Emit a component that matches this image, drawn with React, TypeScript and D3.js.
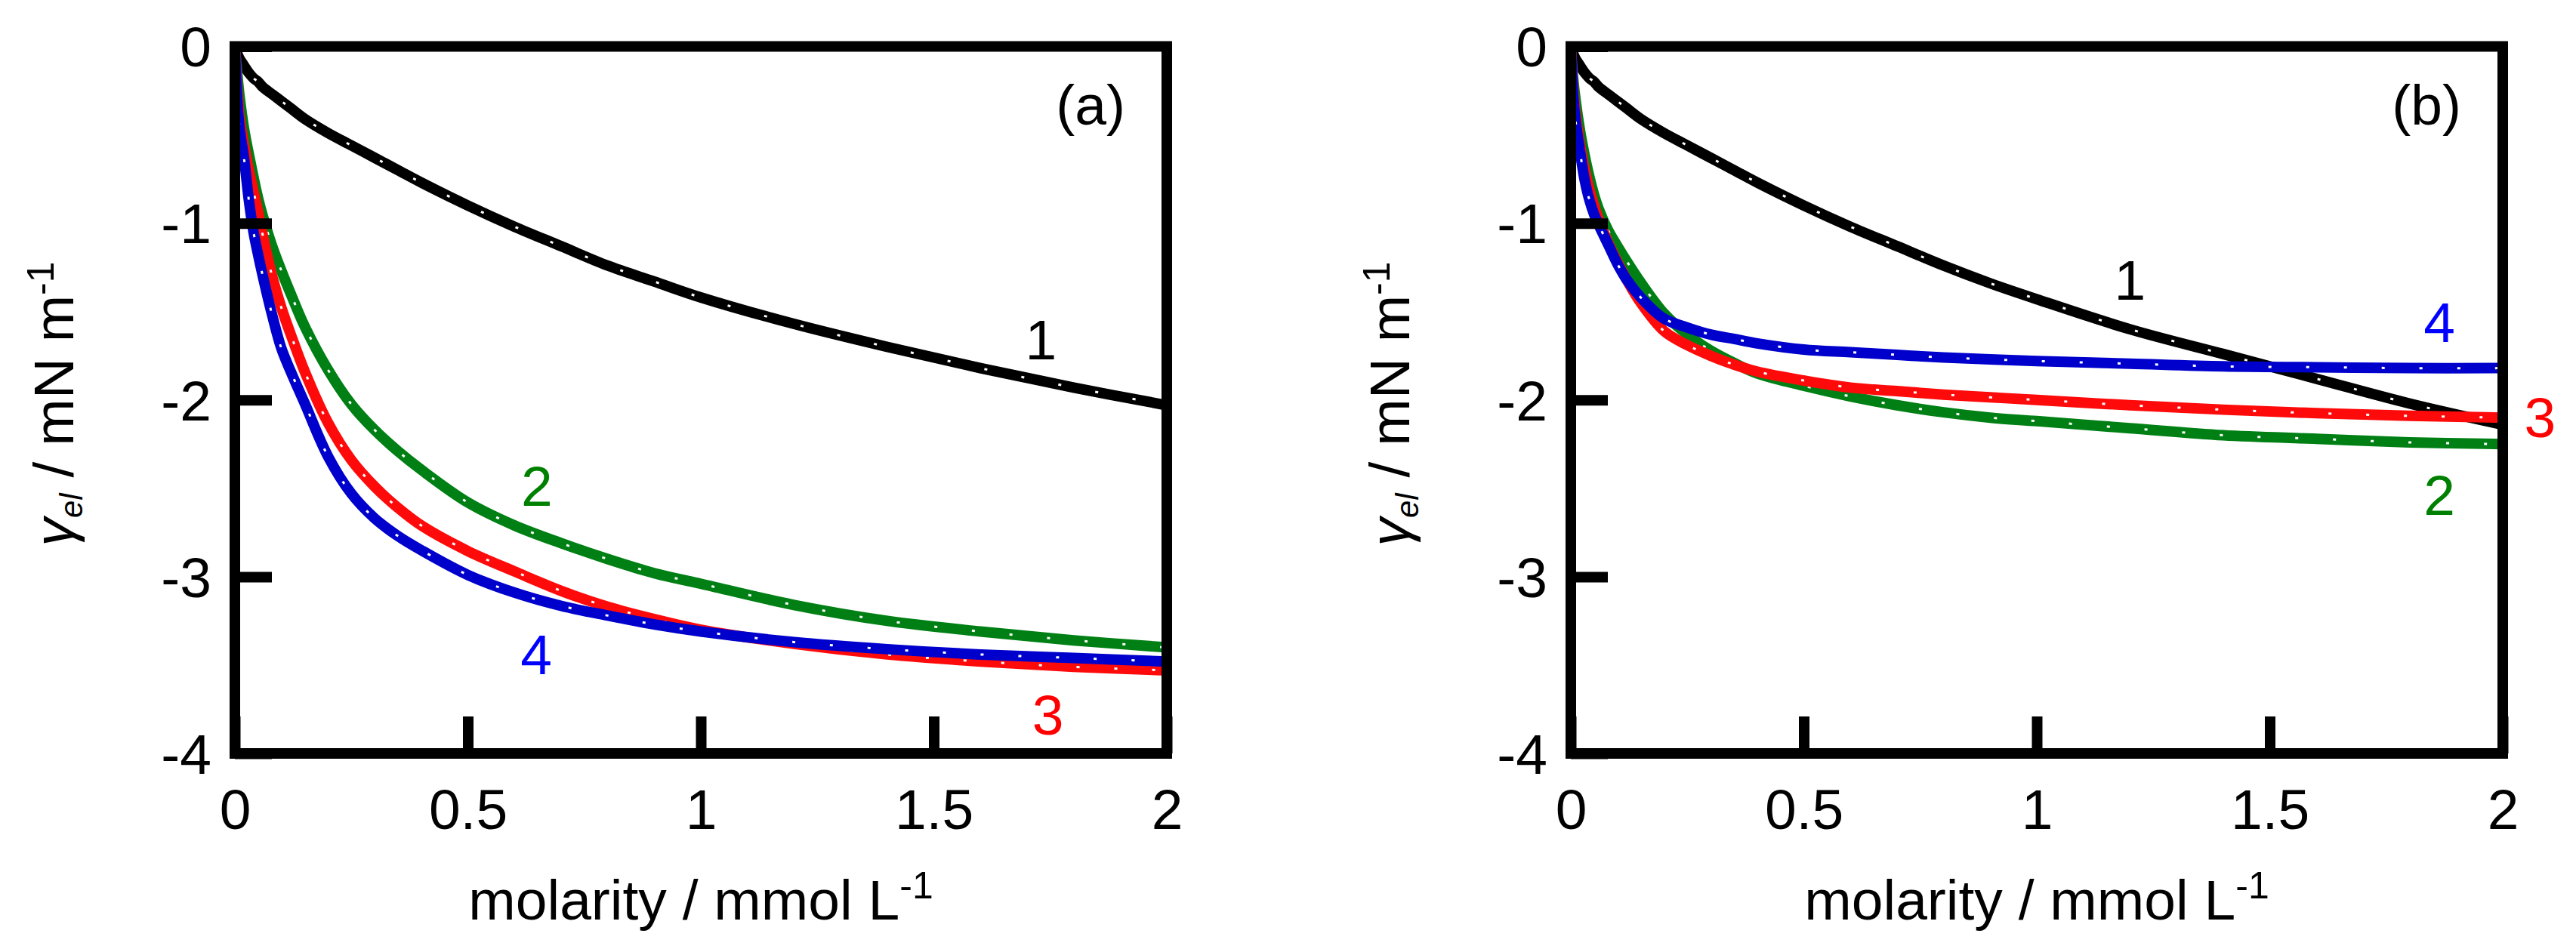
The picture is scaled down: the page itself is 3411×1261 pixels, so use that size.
import { useEffect, useRef } from 'react';
import * as d3 from 'd3';

// molarity grid (mmol/L) shared by all curves
const molarity = [
  0, 0.005, 0.01, 0.02, 0.03, 0.04, 0.05, 0.06, 0.08, 0.1, 0.12, 0.15, 0.2, 0.25,
  0.3, 0.35, 0.4, 0.5, 0.6, 0.7, 0.8, 0.9, 1.0, 1.2, 1.4, 1.6, 1.8, 2.0,
];

// panel (a) gamma_el values, mN/m
const a1 = [
  0, -0.04, -0.07, -0.11, -0.15, -0.18, -0.2, -0.23, -0.27, -0.31, -0.35, -0.41, -0.49, -0.56,
  -0.63, -0.7, -0.77, -0.9, -1.02, -1.13, -1.24, -1.33, -1.42, -1.57, -1.7, -1.82, -1.93, -2.03,
];
const a2 = [
  0, -0.15, -0.28, -0.47, -0.61, -0.74, -0.86, -0.96, -1.13, -1.27, -1.4, -1.585, -1.83, -2.025,
  -2.17, -2.29, -2.395, -2.58, -2.71, -2.81, -2.9, -2.98, -3.04, -3.16, -3.25, -3.31, -3.36, -3.4,
];
const a3 = [
  0, -0.24, -0.4, -0.56, -0.7, -0.82, -0.94, -1.07, -1.3, -1.48, -1.63, -1.84, -2.13, -2.34,
  -2.49, -2.61, -2.71, -2.855, -2.97, -3.08, -3.17, -3.24, -3.3, -3.38, -3.44, -3.48, -3.51, -3.53,
];
const a4 = [
  0, -0.3, -0.46, -0.64, -0.87, -1.05, -1.18, -1.3, -1.52, -1.71, -1.84, -2.02, -2.32, -2.53,
  -2.67, -2.77, -2.85, -2.99, -3.09, -3.165, -3.22, -3.27, -3.31, -3.37, -3.41, -3.44, -3.46, -3.48,
];

// panel (b) gamma_el values, mN/m
const b1 = [
  0, -0.04, -0.07, -0.11, -0.15, -0.18, -0.2, -0.23, -0.27, -0.31, -0.35, -0.41, -0.49, -0.56,
  -0.63, -0.7, -0.77, -0.9, -1.02, -1.13, -1.24, -1.34, -1.43, -1.6, -1.74, -1.88, -2.02, -2.14,
];
const b2 = [
  0, -0.18, -0.3, -0.48, -0.62, -0.74, -0.84, -0.92, -1.04, -1.13, -1.215, -1.335, -1.51, -1.63,
  -1.72, -1.79, -1.85, -1.92, -1.98, -2.03, -2.07, -2.1, -2.12, -2.16, -2.2, -2.22, -2.24, -2.25,
];
const b3 = [
  0, -0.24, -0.38, -0.56, -0.7, -0.81, -0.9, -0.98, -1.11, -1.22, -1.32, -1.45, -1.61, -1.69,
  -1.75, -1.8, -1.84, -1.89, -1.93, -1.95, -1.97, -1.985, -2.0, -2.03, -2.055, -2.075, -2.09, -2.1,
];
const b4 = [
  0, -0.28, -0.42, -0.6, -0.76, -0.87, -0.95, -1.01, -1.12, -1.23, -1.32, -1.42, -1.54, -1.59,
  -1.63, -1.655, -1.68, -1.715, -1.73, -1.745, -1.76, -1.77, -1.78, -1.795, -1.81, -1.815, -1.82, -1.82,
];

const xTicks = [0, 0.5, 1, 1.5, 2];
const yTicks = [0, -1, -2, -3, -4];

// curve labels: [text, molarity, gamma]
const labelsA: [string, number, number][] = [
  ['1', 1.73, -1.66],
  ['2', 0.648, -2.485],
  ['3', 1.745, -3.78],
  ['4', 0.647, -3.44],
];
const labelsB: [string, number, number][] = [
  ['1', 1.2, -1.32],
  ['2', 1.864, -2.54],
  ['3', 2.08, -2.1],
  ['4', 1.864, -1.558],
];

const lineColors = ['#000000', '#008014', '#ff0a0a', '#0000cc'];
const textColors = ['#000000', '#008000', '#ff0000', '#0000ff'];

const FONT = '"Liberation Sans", Arial, sans-serif';

export default function App() {
  const svgRef = useRef<SVGSVGElement | null>(null);

  useEffect(() => {
    const svg = d3.select(svgRef.current);
    svg.selectAll('*').remove();

    const panels = [
      { left: 311, tag: '(a)', series: [a1, a2, a3, a4], labels: labelsA },
      { left: 2080, tag: '(b)', series: [b1, b2, b3, b4], labels: labelsB },
    ];

    const top = 61.5;
    const bottom = 998;
    const plotW = 1234;

    panels.forEach((p) => {
      const x = d3.scaleLinear().domain([0, 2]).range([p.left, p.left + plotW]);
      const y = d3.scaleLinear().domain([-4, 0]).range([bottom, top]);
      const g = svg.append('g');

      const line = d3
        .line<number>()
        .x((_, i) => x(molarity[i]))
        .y((d) => y(d))
        .curve(d3.curveCatmullRom.alpha(0.5));

      // thick coloured curves with a white dotted centre
      p.series.forEach((s, i) => {
        g.append('path')
          .attr('d', line(s))
          .attr('fill', 'none')
          .attr('stroke', lineColors[i])
          .attr('stroke-width', 14);
        g.append('path')
          .attr('d', line(s))
          .attr('fill', 'none')
          .attr('stroke', '#fff')
          .attr('stroke-width', 3)
          .attr('stroke-dasharray', '4 46');
      });

      // frame
      g.append('rect')
        .attr('x', x(0))
        .attr('y', top)
        .attr('width', plotW)
        .attr('height', bottom - top)
        .attr('fill', 'none')
        .attr('stroke', '#000')
        .attr('stroke-width', 14);

      // axes with inward ticks
      const xAxis = g
        .append('g')
        .attr('transform', `translate(0,${bottom})`)
        .call(
          d3.axisBottom(x).tickValues(xTicks).tickSize(-49).tickPadding(47)
            .tickFormat((d) => String(d))
        );
      const yAxis = g
        .append('g')
        .attr('transform', `translate(${x(0)},0)`)
        .call(
          d3.axisLeft(y).tickValues(yTicks).tickSize(-49).tickPadding(31)
            .tickFormat((d) => String(d))
        );
      [xAxis, yAxis].forEach((ax) => {
        ax.select('.domain').remove();
        ax.selectAll('line').attr('stroke', '#000').attr('stroke-width', 14);
        ax.selectAll('text')
          .attr('fill', '#000')
          .style('font-family', FONT)
          .style('font-size', '75px');
      });
      yAxis.selectAll('text').attr('dy', '0.35em');

      // curve labels
      p.labels.forEach(([t, mx, gy], i) => {
        g.append('text')
          .attr('x', x(mx))
          .attr('y', y(gy))
          .attr('dy', '0.35em')
          .attr('text-anchor', 'middle')
          .attr('fill', textColors[i])
          .style('font-family', FONT)
          .style('font-size', '75px')
          .text(t);
      });

      // panel tag
      g.append('text')
        .attr('x', x(2) - 55)
        .attr('y', 165)
        .attr('text-anchor', 'end')
        .style('font-family', FONT)
        .style('font-size', '75px')
        .text(p.tag);

      // x label
      const xl = g
        .append('text')
        .attr('x', x(1))
        .attr('y', 1218)
        .attr('text-anchor', 'middle')
        .style('font-family', FONT)
        .style('font-size', '75px')
        .style('white-space', 'pre');
      xl.append('tspan').text('molarity / mmol L');
      xl.append('tspan').attr('dy', -28).style('font-size', '50px').text('-1');

      // y label
      const yl = g
        .append('text')
        .attr('transform', `translate(${x(0) - 214},535) rotate(-90)`)
        .attr('text-anchor', 'middle')
        .style('font-family', FONT)
        .style('font-size', '75px')
        .style('white-space', 'pre');
      yl.append('tspan').style('font-style', 'italic').text('γ');
      yl.append('tspan')
        .attr('dy', 12)
        .style('font-style', 'italic')
        .style('font-size', '42px')
        .text('el');
      yl.append('tspan').attr('dy', -12).text(' / mN m');
      yl.append('tspan').attr('dy', -26).style('font-size', '50px').text('-1');
    });
  }, []);

  return (
    <svg
      ref={svgRef}
      width={3411}
      height={1261}
      style={{ position: 'absolute', left: 0, top: 0, background: '#fff' }}
    ></svg>
  );
}
